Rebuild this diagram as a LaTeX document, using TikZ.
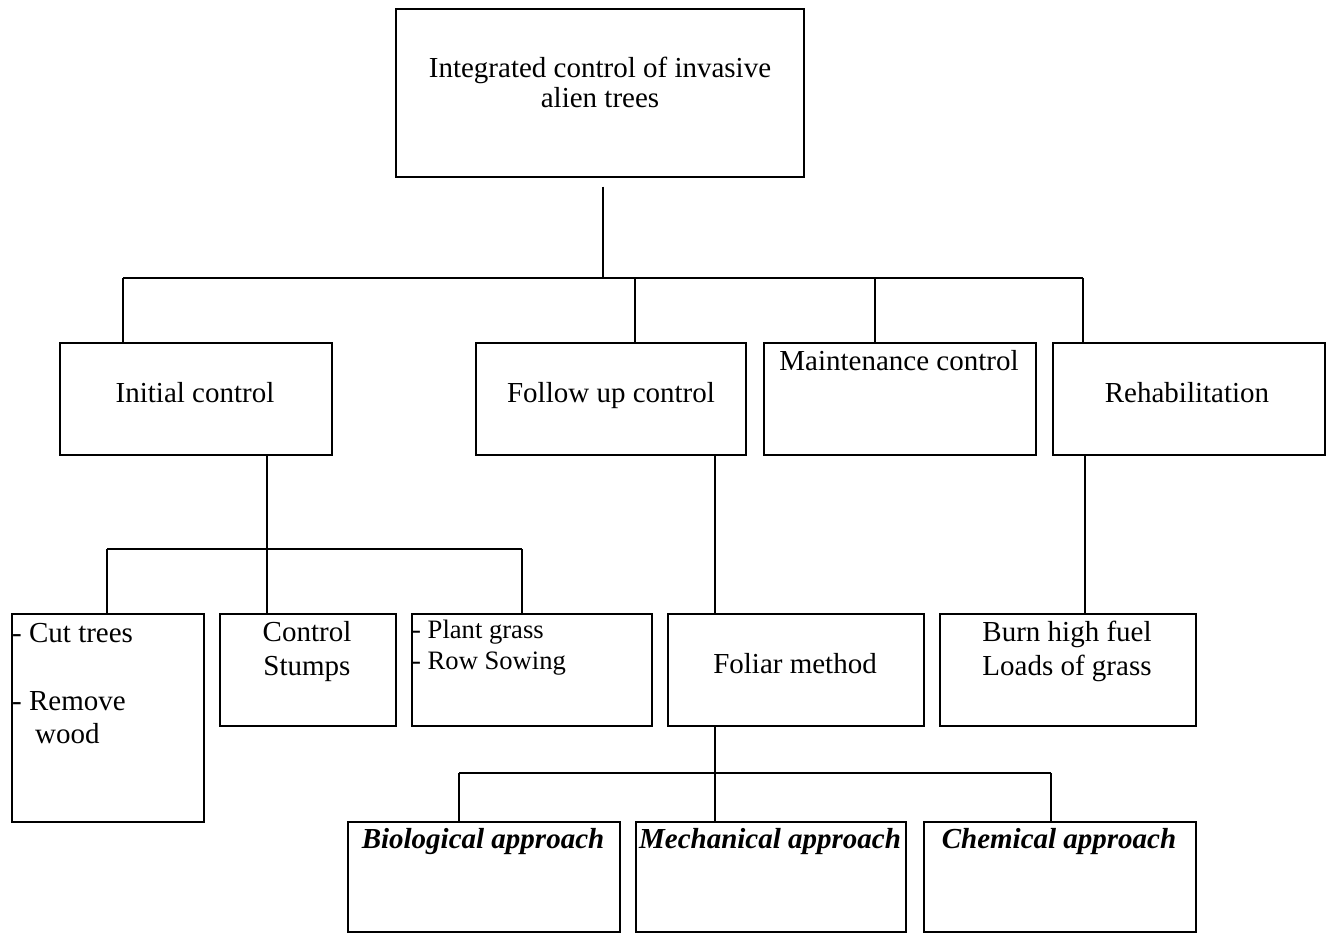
\documentclass[tikz,border=0pt]{standalone}
\usepackage{fontspec}
\setmainfont{Liberation Serif}
\usetikzlibrary{calc}
\begin{document}
\begin{tikzpicture}[x=1pt,y=-1pt,
  box/.style={draw=black, line width=1.7pt, inner sep=0pt, anchor=north west},
  conn/.style={draw=black, line width=1.5pt},
  txt/.style={inner sep=0pt, font=\fontsize{29pt}{33pt}\selectfont},
  smalltxt/.style={inner sep=0pt, font=\fontsize{26.6pt}{31pt}\selectfont},
  bitxt/.style={inner sep=0pt, font=\fontsize{29pt}{33pt}\selectfont\bfseries\itshape}]
\useasboundingbox (0,0) rectangle (1330,933);
% boxes
\node[box, minimum width=408, minimum height=168] (top) at (395,8) {};
\node[box, minimum width=272, minimum height=112] (init) at (59,342) {};
\node[box, minimum width=270, minimum height=112] (follow) at (475,342) {};
\node[box, minimum width=272, minimum height=112] (maint) at (763,342) {};
\node[box, minimum width=272, minimum height=112] (rehab) at (1052,342) {};
\node[box, minimum width=192, minimum height=208] (cut) at (11,613) {};
\node[box, minimum width=176, minimum height=112] (stumps) at (219,613) {};
\node[box, minimum width=240, minimum height=112] (plant) at (411,613) {};
\node[box, minimum width=256, minimum height=112] (foliar) at (667,613) {};
\node[box, minimum width=256, minimum height=112] (burn) at (939,613) {};
\node[box, minimum width=272, minimum height=110] (bio) at (347,821) {};
\node[box, minimum width=270, minimum height=110] (mech) at (635,821) {};
\node[box, minimum width=272, minimum height=110] (chem) at (923,821) {};
% texts
\node[txt, anchor=base] (tTop1) at (600,78) {Integrated control of invasive};
\node[txt, anchor=base] (tTop2) at (600,108) {alien trees};
\node[txt, anchor=base] (tInit) at (195,402) {Initial control};
\node[txt, anchor=base] (tFollow) at (611,402) {Follow up control};
\node[txt, anchor=base] (tMaint) at (899,370) {Maintenance control};
\node[txt, anchor=base] (tRehab) at (1187,402) {Rehabilitation};
\node[txt, anchor=base west] (tCut1) at (12,642) {- Cut trees};
\node[txt, anchor=base west] (tCut2) at (12,710) {- Remove};
\node[txt, anchor=base west] (tCut3) at (35,743) {wood};
\node[txt, anchor=base] (tSt1) at (307,641) {Control};
\node[txt, anchor=base] (tSt2) at (307,675) {Stumps};
\node[smalltxt, anchor=base west] (tPl1) at (412,638) {- Plant grass};
\node[smalltxt, anchor=base west] (tPl2) at (412,669) {- Row Sowing};
\node[txt, anchor=base] (tFol) at (795,673) {Foliar method};
\node[txt, anchor=base] (tBu1) at (1067,641) {Burn high fuel};
\node[txt, anchor=base] (tBu2) at (1067,675) {Loads of grass};
\node[bitxt, anchor=base] (tBio) at (483,848) {Biological approach};
\node[bitxt, anchor=base] (tMech) at (770,848) {Mechanical approach};
\node[bitxt, anchor=base] (tChem) at (1059,848) {Chemical approach};
% junction coordinates
\coordinate (jt) at (603,278);
\coordinate (b1a) at (123,278);
\coordinate (b1b) at (635,278);
\coordinate (b1c) at (875,278);
\coordinate (b1d) at (1083,278);
\coordinate (ji) at (267,549);
\coordinate (b2a) at (107,549);
\coordinate (b2c) at (522,549);
\coordinate (jf) at (715,454);
\coordinate (jr) at (1085,454);
\coordinate (jo) at (715,773);
\coordinate (b3a) at (459,773);
\coordinate (b3c) at (1051,773);
% connectors
\draw[conn] ($(top.south -| jt)+(0,9)$) -- (jt);
\draw[conn] (b1a) -- (b1d);
\draw[conn] (b1a) -- (b1a |- init.north);
\draw[conn] (b1b) -- (b1b |- follow.north);
\draw[conn] (b1c) -- (b1c |- maint.north);
\draw[conn] (b1d) -- (b1d |- rehab.north);
\draw[conn] (init.south -| ji) -- (ji);
\draw[conn] (b2a) -- (b2c);
\draw[conn] (b2a) -- (b2a |- cut.north);
\draw[conn] (ji) -- (ji |- stumps.north);
\draw[conn] (b2c) -- (b2c |- plant.north);
\draw[conn] (jf) -- (jf |- foliar.north);
\draw[conn] (jr) -- (jr |- burn.north);
\draw[conn] (foliar.south -| jo) -- (jo);
\draw[conn] (b3a) -- (b3c);
\draw[conn] (b3a) -- (b3a |- bio.north);
\draw[conn] (jo) -- (jo |- mech.north);
\draw[conn] (b3c) -- (b3c |- chem.north);
\end{tikzpicture}
\end{document}
